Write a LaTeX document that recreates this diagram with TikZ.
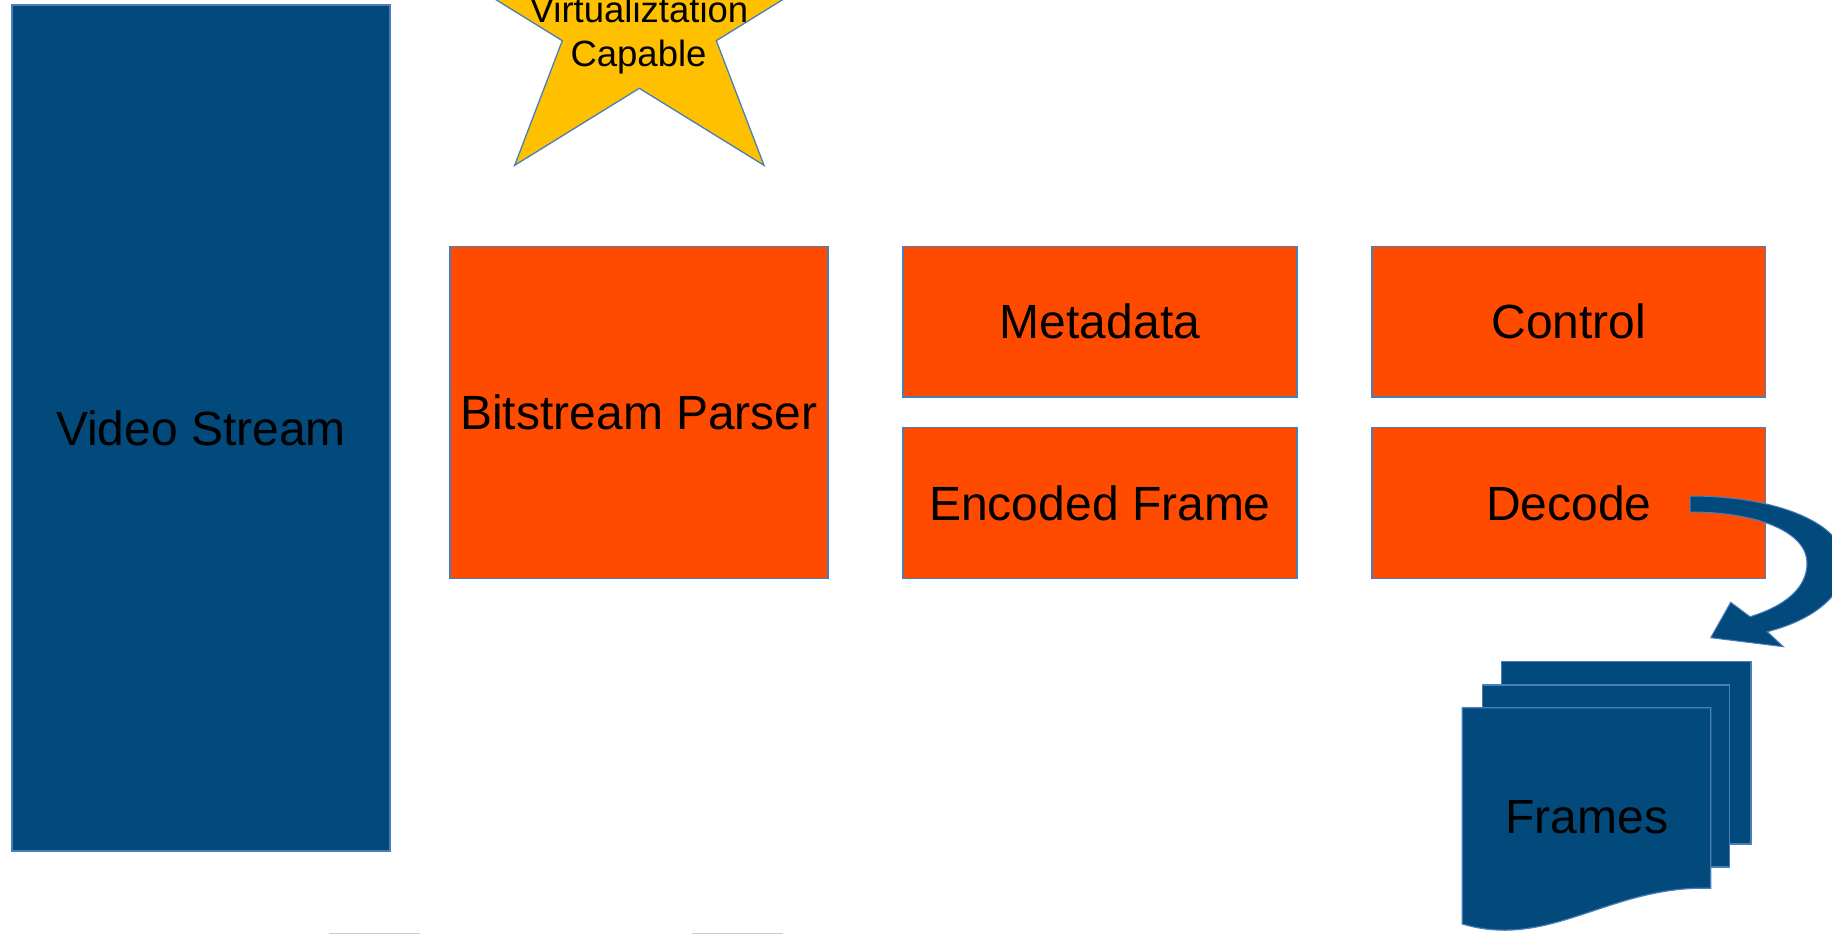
\documentclass[tikz,border=0pt]{standalone}
\usepackage{fontspec}
\setmainfont{Liberation Sans}
\definecolor{dblue}{HTML}{034A7C}
\definecolor{orng}{HTML}{FF4B00}
\definecolor{gold}{HTML}{FFC000}
\definecolor{edge}{HTML}{4A7EBB}
\definecolor{pale}{HTML}{C3CEDD}
\tikzset{
  box/.style={rectangle, draw=edge, line width=1.3pt, inner sep=0pt, text=black, font=\fontsize{48}{57}\selectfont},
  bluebox/.style={box, fill=dblue},
  orangebox/.style={box, fill=orng},
  startext/.style={inner sep=0pt, text=black, font=\fontsize{36.5}{44}\selectfont, anchor=base},
  plaintext/.style={inner sep=0pt, text=black, font=\fontsize{48}{57}\selectfont},
  page/.style={fill=dblue, draw=edge, line width=1.2pt},
  starshape/.style={fill=gold, draw=edge, line width=1.3pt, line join=miter},
  blockarrow/.style={fill=dblue, draw=edge, line width=1pt, line join=miter},
  stub/.style={draw=pale, line width=2pt}
}
\begin{document}
\begin{tikzpicture}[x=1pt,y=-1pt]
\useasboundingbox (0,0) rectangle (1832,934);
\clip (0,0) rectangle (1832,934);

% left column
\node[bluebox, minimum width=378pt, minimum height=846pt] (video) at (201,428) {Video Stream};

% star
\draw[starshape] (639.3,-161) -- (591.7,-36.3) -- (437.7,-36.3) -- (562.3,40.7) -- (514.7,165.3)
  -- (639.3,88.3) -- (764,165.3) -- (716.3,40.7) -- (840.9,-36.3) -- (686.9,-36.3) -- cycle;
\node[startext] (virt) at (639,22.5) {Virtualiztation};
\node[startext] (capable) at (638.5,66.5) {Capable};

% orange boxes
\node[orangebox, minimum width=378pt, minimum height=332pt] (parser) at (639,412.5) {Bitstream Parser};
\node[orangebox, minimum width=394pt, minimum height=150.5pt] (meta) at (1100,321.75) {Metadata};
\node[orangebox, minimum width=394pt, minimum height=151pt] (enc) at (1100,503) {Encoded Frame};
\node[orangebox, minimum width=393.5pt, minimum height=150.5pt] (control) at (1568.75,321.75) {Control};
\node[orangebox, minimum width=393.5pt, minimum height=151pt] (decode) at (1568.75,503) {Decode};

% curved block arrow from Decode to Frames
\coordinate (arrowtail) at (1690,504);
\coordinate (arrowtip) at (1710.7,637.7);
\draw[blockarrow] (1690,496) .. controls (1780,496) and (1845,525) .. (1845,563)
  .. controls (1845,597) and (1810,621) .. (1767.3,631.7)
  -- (1783.3,646.7) -- (arrowtip) -- (1730.7,602.3) -- (1750,616.7)
  .. controls (1785,606) and (1807,588) .. (1807,563)
  .. controls (1807,533) and (1760,512) .. (1690,512) -- cycle;

% frames (multi-document)
\draw[page] (1501.7,661.7) rectangle (1751,844);
\draw[page] (1482.7,685) rectangle (1729.3,867);
\draw[page] (1462.3,707.7) -- (1710.7,707.7) -- (1710.7,888.3)
  .. controls (1610,885) and (1550,950) .. (1462.3,924) -- cycle;
\node[plaintext] (frames) at (1586.7,817) {Frames};

% edges of shapes below the visible area
\draw[stub] (329,933.5) -- (420,933.5);
\draw[stub] (692,933.5) -- (783,933.5);
\end{tikzpicture}
\end{document}
